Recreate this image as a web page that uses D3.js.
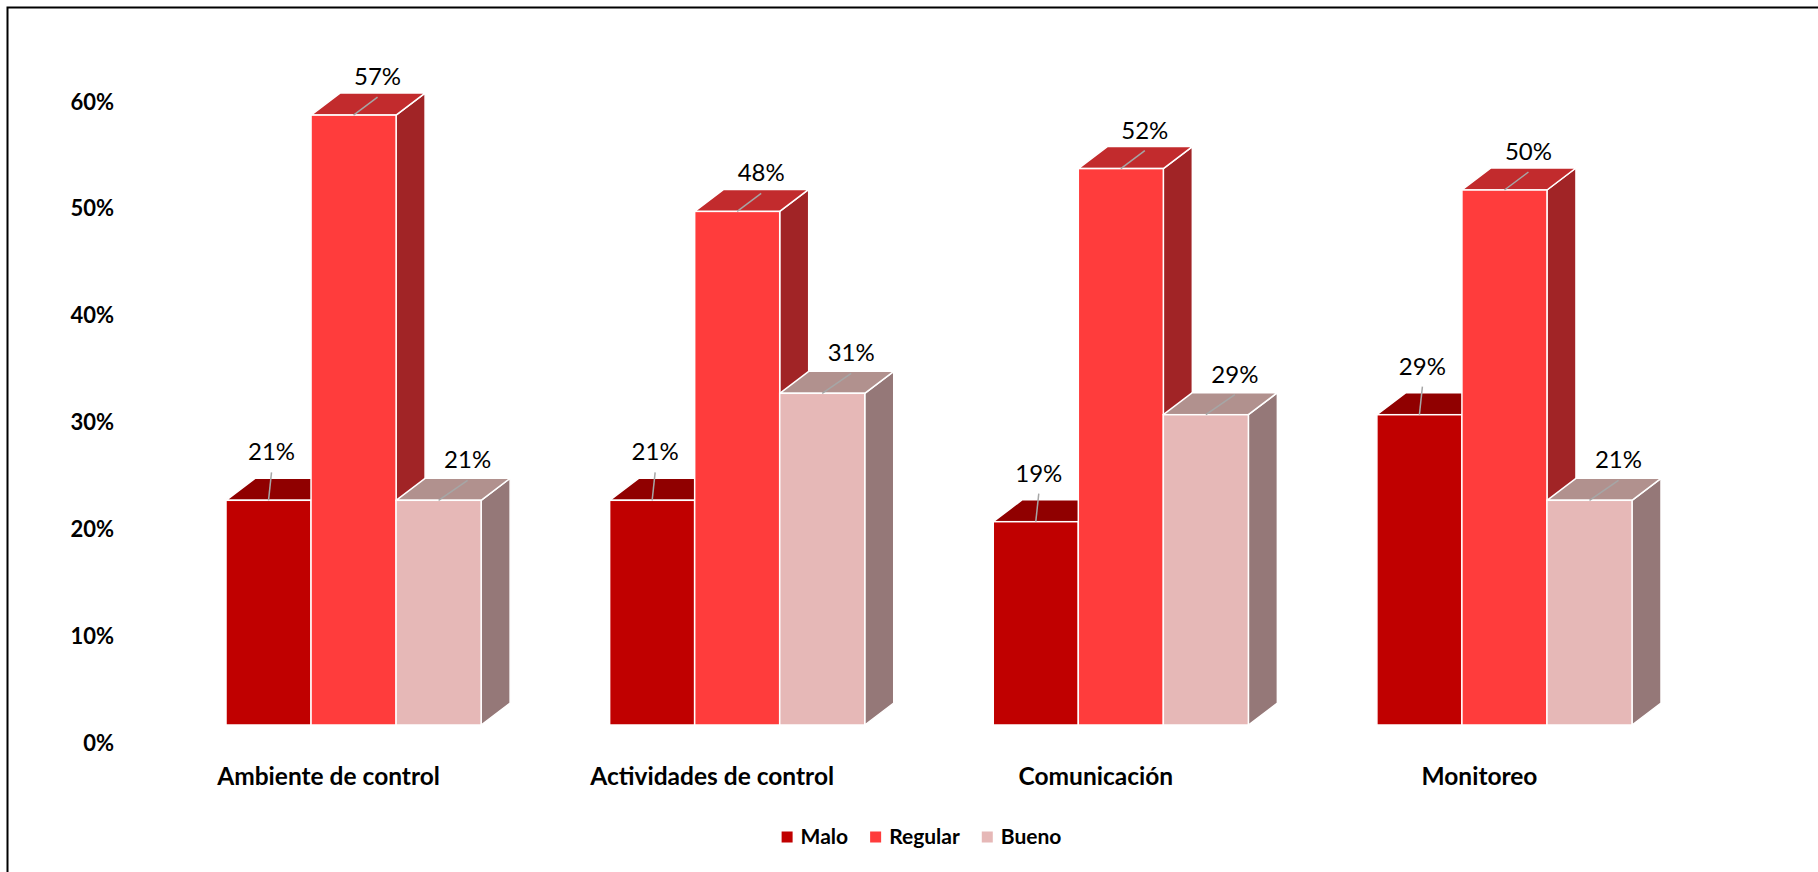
<!DOCTYPE html>
<html>
<head>
<meta charset="utf-8">
<script src="https://cdn.jsdelivr.net/npm/d3@7"></script>
<style>
  html, body { margin: 0; padding: 0; background: #ffffff; }
  svg { display: block; }
</style>
</head>
<body>
<svg id="chart" width="1818" height="872"></svg>
<script>
// ---- data ----
const categories = ["Ambiente de control", "Actividades de control", "Comunicación", "Monitoreo"];
const seriesNames = ["Malo", "Regular", "Bueno"];
const malo    = [0.21, 0.21, 0.19, 0.29];
const regular = [0.57, 0.48, 0.52, 0.50];
const bueno   = [0.21, 0.31, 0.29, 0.21];
const axisTicks = [0, 0.1, 0.2, 0.3, 0.4, 0.5, 0.6];

const seriesValues = [malo, regular, bueno];

// face colours per series: front, top, side
const palette = [
  { front: "#C00000", top: "#900000", side: "#780000" },
  { front: "#FF3C3C", top: "#C22B2D", side: "#A12426" },
  { front: "#E6B8B7", top: "#B1918E", side: "#957878" }
];

// label placement per series (leader end offset and text baseline offset)
const labelOffsetX = [3, 24, 29];
const leaderTopOffset = [-28, -18, -20];
const textBaseOffset = [-40, -30, -32];

const svg = d3.select("#chart");
const W = 1818, H = 872;

svg.append("rect").attr("width", W).attr("height", H).attr("fill", "#ffffff");

// outer frame (left and top edges visible)
svg.append("path")
  .attr("d", `M7.5,${H} V7.5 H${W}`)
  .attr("fill", "none")
  .attr("stroke", "#000")
  .attr("stroke-width", 2);

// ---- scales ----
const baseY = 725;
const depthX = 29, depthY = 22;

const x0 = d3.scaleBand()
  .domain(categories)
  .range([226, 1632])
  .paddingInner(0.335)
  .paddingOuter(0);

const x1 = d3.scaleBand()
  .domain(seriesNames)
  .range([0, x0.bandwidth()])
  .padding(0);

const y = d3.scaleLinear().domain([0, 0.6]).range([baseY, baseY - 642]);

// value axis labels sit on the back wall
const yAxisScale = d3.scaleLinear().domain([0, 0.6]).range([743, 102]);

// ---- value axis ----
const yAxis = svg.append("g")
  .attr("transform", "translate(114,0)")
  .call(d3.axisLeft(yAxisScale).tickValues(axisTicks).tickFormat(d3.format(".0%")).tickSize(0).tickPadding(0));
yAxis.select(".domain").remove();
yAxis.selectAll("text")
  .attr("font-family", "Lato, 'Open Sans', sans-serif")
  .attr("font-weight", "bold")
  .attr("font-size", 22)
  .attr("fill", "#000");

// ---- category axis ----
const xAxis = svg.append("g")
  .attr("transform", `translate(-25,${baseY + 43})`)
  .call(d3.axisBottom(x0).tickSize(0).tickPadding(0));
xAxis.select(".domain").remove();
xAxis.selectAll("text")
  .attr("font-family", "Lato, 'Open Sans', sans-serif")
  .attr("font-weight", "bold")
  .attr("font-size", 24.5)
  .attr("fill", "#000");

// ---- 3D bars ----
const bars = [];
categories.forEach((c, ci) => {
  seriesNames.forEach((s, si) => {
    bars.push({ cat: c, ser: s, si: si, value: seriesValues[si][ci] });
  });
});

const barLayer = svg.append("g");
bars.forEach(d => {
  const xl = x0(d.cat) + x1(d.ser);
  const xr = xl + x1.bandwidth();
  const yt = y(d.value);
  const yb = y(0);
  const col = palette[d.si];
  const g = barLayer.append("g");
  // side face
  g.append("path")
    .attr("d", `M${xr},${yt} L${xr + depthX},${yt - depthY} L${xr + depthX},${yb - depthY} L${xr},${yb} Z`)
    .attr("fill", col.side)
    .attr("stroke", "#fff").attr("stroke-width", 1.5).attr("stroke-linejoin", "round");
  // top face
  g.append("path")
    .attr("d", `M${xl},${yt} L${xl + depthX},${yt - depthY} L${xr + depthX},${yt - depthY} L${xr},${yt} Z`)
    .attr("fill", col.top)
    .attr("stroke", "#fff").attr("stroke-width", 1.5).attr("stroke-linejoin", "round");
  // front face
  g.append("rect")
    .attr("x", xl).attr("y", yt)
    .attr("width", xr - xl).attr("height", yb - yt)
    .attr("fill", col.front)
    .attr("stroke", "#fff").attr("stroke-width", 1.5);
});

// ---- data labels with leader lines ----
const labelLayer = svg.append("g");
bars.forEach(d => {
  const cx = x0(d.cat) + x1(d.ser) + x1.bandwidth() / 2;
  const yt = y(d.value);
  const lx = cx + labelOffsetX[d.si];
  labelLayer.append("line")
    .attr("x1", cx).attr("y1", yt)
    .attr("x2", lx).attr("y2", yt + leaderTopOffset[d.si])
    .attr("stroke", "#A6A6A6").attr("stroke-width", 1.5);
  labelLayer.append("text")
    .attr("x", lx).attr("y", yt + textBaseOffset[d.si])
    .attr("text-anchor", "middle")
    .attr("font-family", "Lato, 'Open Sans', sans-serif")
    .attr("font-size", 24)
    .attr("fill", "#000")
    .text(d3.format(".0%")(d.value));
});

// ---- legend ----
const legend = svg.append("g");
const sq = 11, gapText = 8, gapItem = 22;
let cursor = 0;
seriesNames.forEach((s, i) => {
  const g = legend.append("g");
  g.append("rect").attr("x", 0).attr("y", -sq / 2).attr("width", sq).attr("height", sq).attr("fill", palette[i].front);
  const t = g.append("text")
    .attr("x", sq + gapText).attr("y", 0).attr("dy", "0.35em")
    .attr("font-family", "Lato, 'Open Sans', sans-serif")
    .attr("font-weight", "bold")
    .attr("font-size", 21)
    .attr("fill", "#000")
    .text(s);
  const w = sq + gapText + t.node().getComputedTextLength();
  g.attr("transform", `translate(${cursor},0)`);
  cursor += w + gapItem;
});
const legendWidth = cursor - gapItem;
legend.attr("transform", `translate(${921.5 - legendWidth / 2},837)`);
</script>
</body>
</html>
